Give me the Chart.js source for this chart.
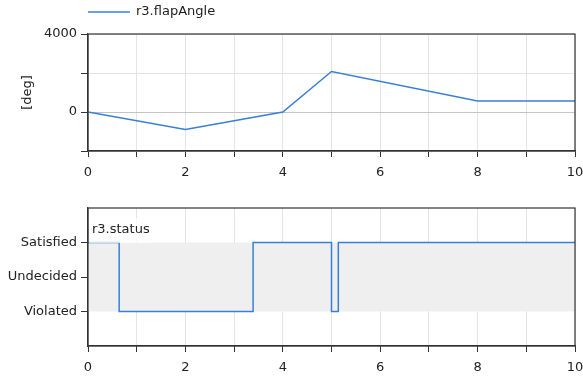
<!DOCTYPE html>
<html>
<head>
<meta charset="utf-8">
<script src="https://cdn.jsdelivr.net/npm/chart.js@4.4.0/dist/chart.umd.min.js"></script>
<style>
    html, body { margin: 0; padding: 0; background: #fff; }
    #topBox { position: absolute; left: 0; top: 0; width: 583px; height: 180px; }
    #bottomBox { position: absolute; left: 0; top: 180px; width: 583px; height: 196px; }
</style>
</head>
<body>
<div id="topBox"><canvas id="angleChart"></canvas></div>
<div id="bottomBox"><canvas id="statusChart"></canvas></div>
<script>
// flap angle series
const angleName = 'r3.flapAngle';
const angleTimes = [0, 2, 4, 5, 8, 10];
const angleValues = [0, -900, 0, 2080, 560, 560];
const angleTicks = [-2000, 0, 2000, 4000];
const angleTickLabels = ['', '0', '', '4000'];

// shared time axis
const timeTicks = [0, 1, 2, 3, 4, 5, 6, 7, 8, 9, 10];
const timeTickLabels = ['0', '', '2', '', '4', '', '6', '', '8', '', '10'];

// status series
const statusName = 'r3.status';
const statusCategories = ['Violated', 'Undecided', 'Satisfied'];
const statusTimes = [0, 0.64, 3.39, 5.0, 5.14, 10];
const statusValues = ['Satisfied', 'Violated', 'Satisfied', 'Violated', 'Satisfied', 'Satisfied'];

const FONT = { family: 'DejaVu Sans', size: 13 };
const TEXT = '#222';
const AXIS = '#333';
const GRID = '#e4e4e4';
const BLUE = '#3a7fd6';

Chart.defaults.font = FONT;
Chart.defaults.color = TEXT;

// box round the plot area
const frame = {
    id: 'frame',
    afterDatasetsDraw(chart) {
        const a = chart.chartArea, ctx = chart.ctx;
        ctx.save();
        ctx.strokeStyle = AXIS;
        ctx.lineWidth = 1.2;
        ctx.strokeRect(a.left, a.top, a.right - a.left, a.bottom - a.top);
        ctx.restore();
    }
};

function timeAxis(height) {
    return {
        type: 'linear',
        min: 0,
        max: 10,
        afterBuildTicks: s => { s.ticks = timeTicks.map(v => ({ value: v })); },
        afterFit: s => {
            s.height = height;
            s.paddingLeft = 0;
            s.paddingRight = 0;
        },
        ticks: {
            autoSkip: false,
            maxRotation: 0,
            padding: 8,
            callback: v => timeTickLabels[timeTicks.indexOf(v)]
        },
        grid: { color: GRID, tickColor: AXIS, tickLength: 6 },
        border: { color: AXIS, width: 1.2 }
    };
}

// legend for the top chart
const angleLegend = {
    id: 'angleLegend',
    afterDraw(chart) {
        const ctx = chart.ctx, x = chart.chartArea.left;
        ctx.save();
        ctx.strokeStyle = BLUE;
        ctx.lineWidth = 1.5;
        ctx.beginPath();
        ctx.moveTo(x, 12);
        ctx.lineTo(x + 42, 12);
        ctx.stroke();
        ctx.font = FONT.size + 'px ' + FONT.family;
        ctx.fillStyle = TEXT;
        ctx.textBaseline = 'middle';
        ctx.fillText(angleName, x + 48, 12);
        ctx.restore();
    }
};

new Chart(document.getElementById('angleChart'), {
    type: 'line',
    data: {
        datasets: [{
            label: angleName,
            data: angleTimes.map((t, i) => ({ x: t, y: angleValues[i] })),
            borderColor: BLUE,
            borderWidth: 1.5,
            pointRadius: 0,
            tension: 0
        }]
    },
    options: {
        responsive: true,
        maintainAspectRatio: false,
        animation: false,
        layout: { padding: { top: 34, right: 8, left: 0, bottom: 0 } },
        plugins: { legend: { display: false }, tooltip: { enabled: false } },
        scales: {
            x: timeAxis(29),
            y: {
                type: 'linear',
                min: -2000,
                max: 4000,
                afterBuildTicks: s => { s.ticks = angleTicks.map(v => ({ value: v })); },
                afterFit: s => { s.width = 88; },
                ticks: {
                    autoSkip: false,
                    padding: 4,
                    callback: v => angleTickLabels[angleTicks.indexOf(v)]
                },
                title: { display: true, text: '[deg]', padding: { top: 20, bottom: 0 } },
                grid: {
                    color: c => (c.tick && c.tick.value === 0 ? '#c4c4c4' : GRID),
                    tickColor: AXIS,
                    tickLength: 7
                },
                border: { color: AXIS, width: 1.2 }
            }
        }
    },
    plugins: [frame, angleLegend]
});

// status label drawn inside the plot, on a pale box
const statusLabel = {
    id: 'statusLabel',
    afterDatasetsDraw(chart) {
        const ctx = chart.ctx, a = chart.chartArea;
        ctx.save();
        ctx.fillStyle = 'rgba(255,255,255,0.75)';
        ctx.fillRect(a.left + 1, a.top + 10, 63, 25);
        ctx.font = FONT.size + 'px ' + FONT.family;
        ctx.fillStyle = TEXT;
        ctx.textBaseline = 'middle';
        ctx.fillText(statusName, a.left + 4, a.top + 22);
        ctx.restore();
    }
};

const statusLevel = name => statusCategories.indexOf(name) + 1;
const bandTop = statusLevel('Satisfied');
const bandBottom = statusLevel('Violated');

new Chart(document.getElementById('statusChart'), {
    type: 'line',
    data: {
        datasets: [{
            label: statusName,
            data: statusTimes.map((t, i) => ({ x: t, y: statusLevel(statusValues[i]) })),
            borderColor: BLUE,
            borderWidth: 1.5,
            pointRadius: 0,
            stepped: 'before',
            order: 1
        }, {
            label: 'range',
            data: [{ x: 0, y: bandTop }, { x: 10, y: bandTop }],
            borderWidth: 0,
            pointRadius: 0,
            fill: { value: bandBottom },
            backgroundColor: '#efefef',
            order: 2
        }]
    },
    options: {
        responsive: true,
        maintainAspectRatio: false,
        animation: false,
        layout: { padding: { top: 28, right: 8, left: 0, bottom: 0 } },
        plugins: { legend: { display: false }, tooltip: { enabled: false } },
        scales: {
            x: timeAxis(30),
            y: {
                type: 'linear',
                min: 0,
                max: statusCategories.length + 1,
                afterBuildTicks: s => { s.ticks = statusCategories.map((c, i) => ({ value: i + 1 })); },
                afterFit: s => { s.width = 88; },
                ticks: {
                    autoSkip: false,
                    padding: 4,
                    callback: v => statusCategories[v - 1]
                },
                grid: { drawOnChartArea: false, tickColor: AXIS, tickLength: 7 },
                border: { color: AXIS, width: 1.2 }
            }
        }
    },
    plugins: [frame, statusLabel]
});
</script>
</body>
</html>
